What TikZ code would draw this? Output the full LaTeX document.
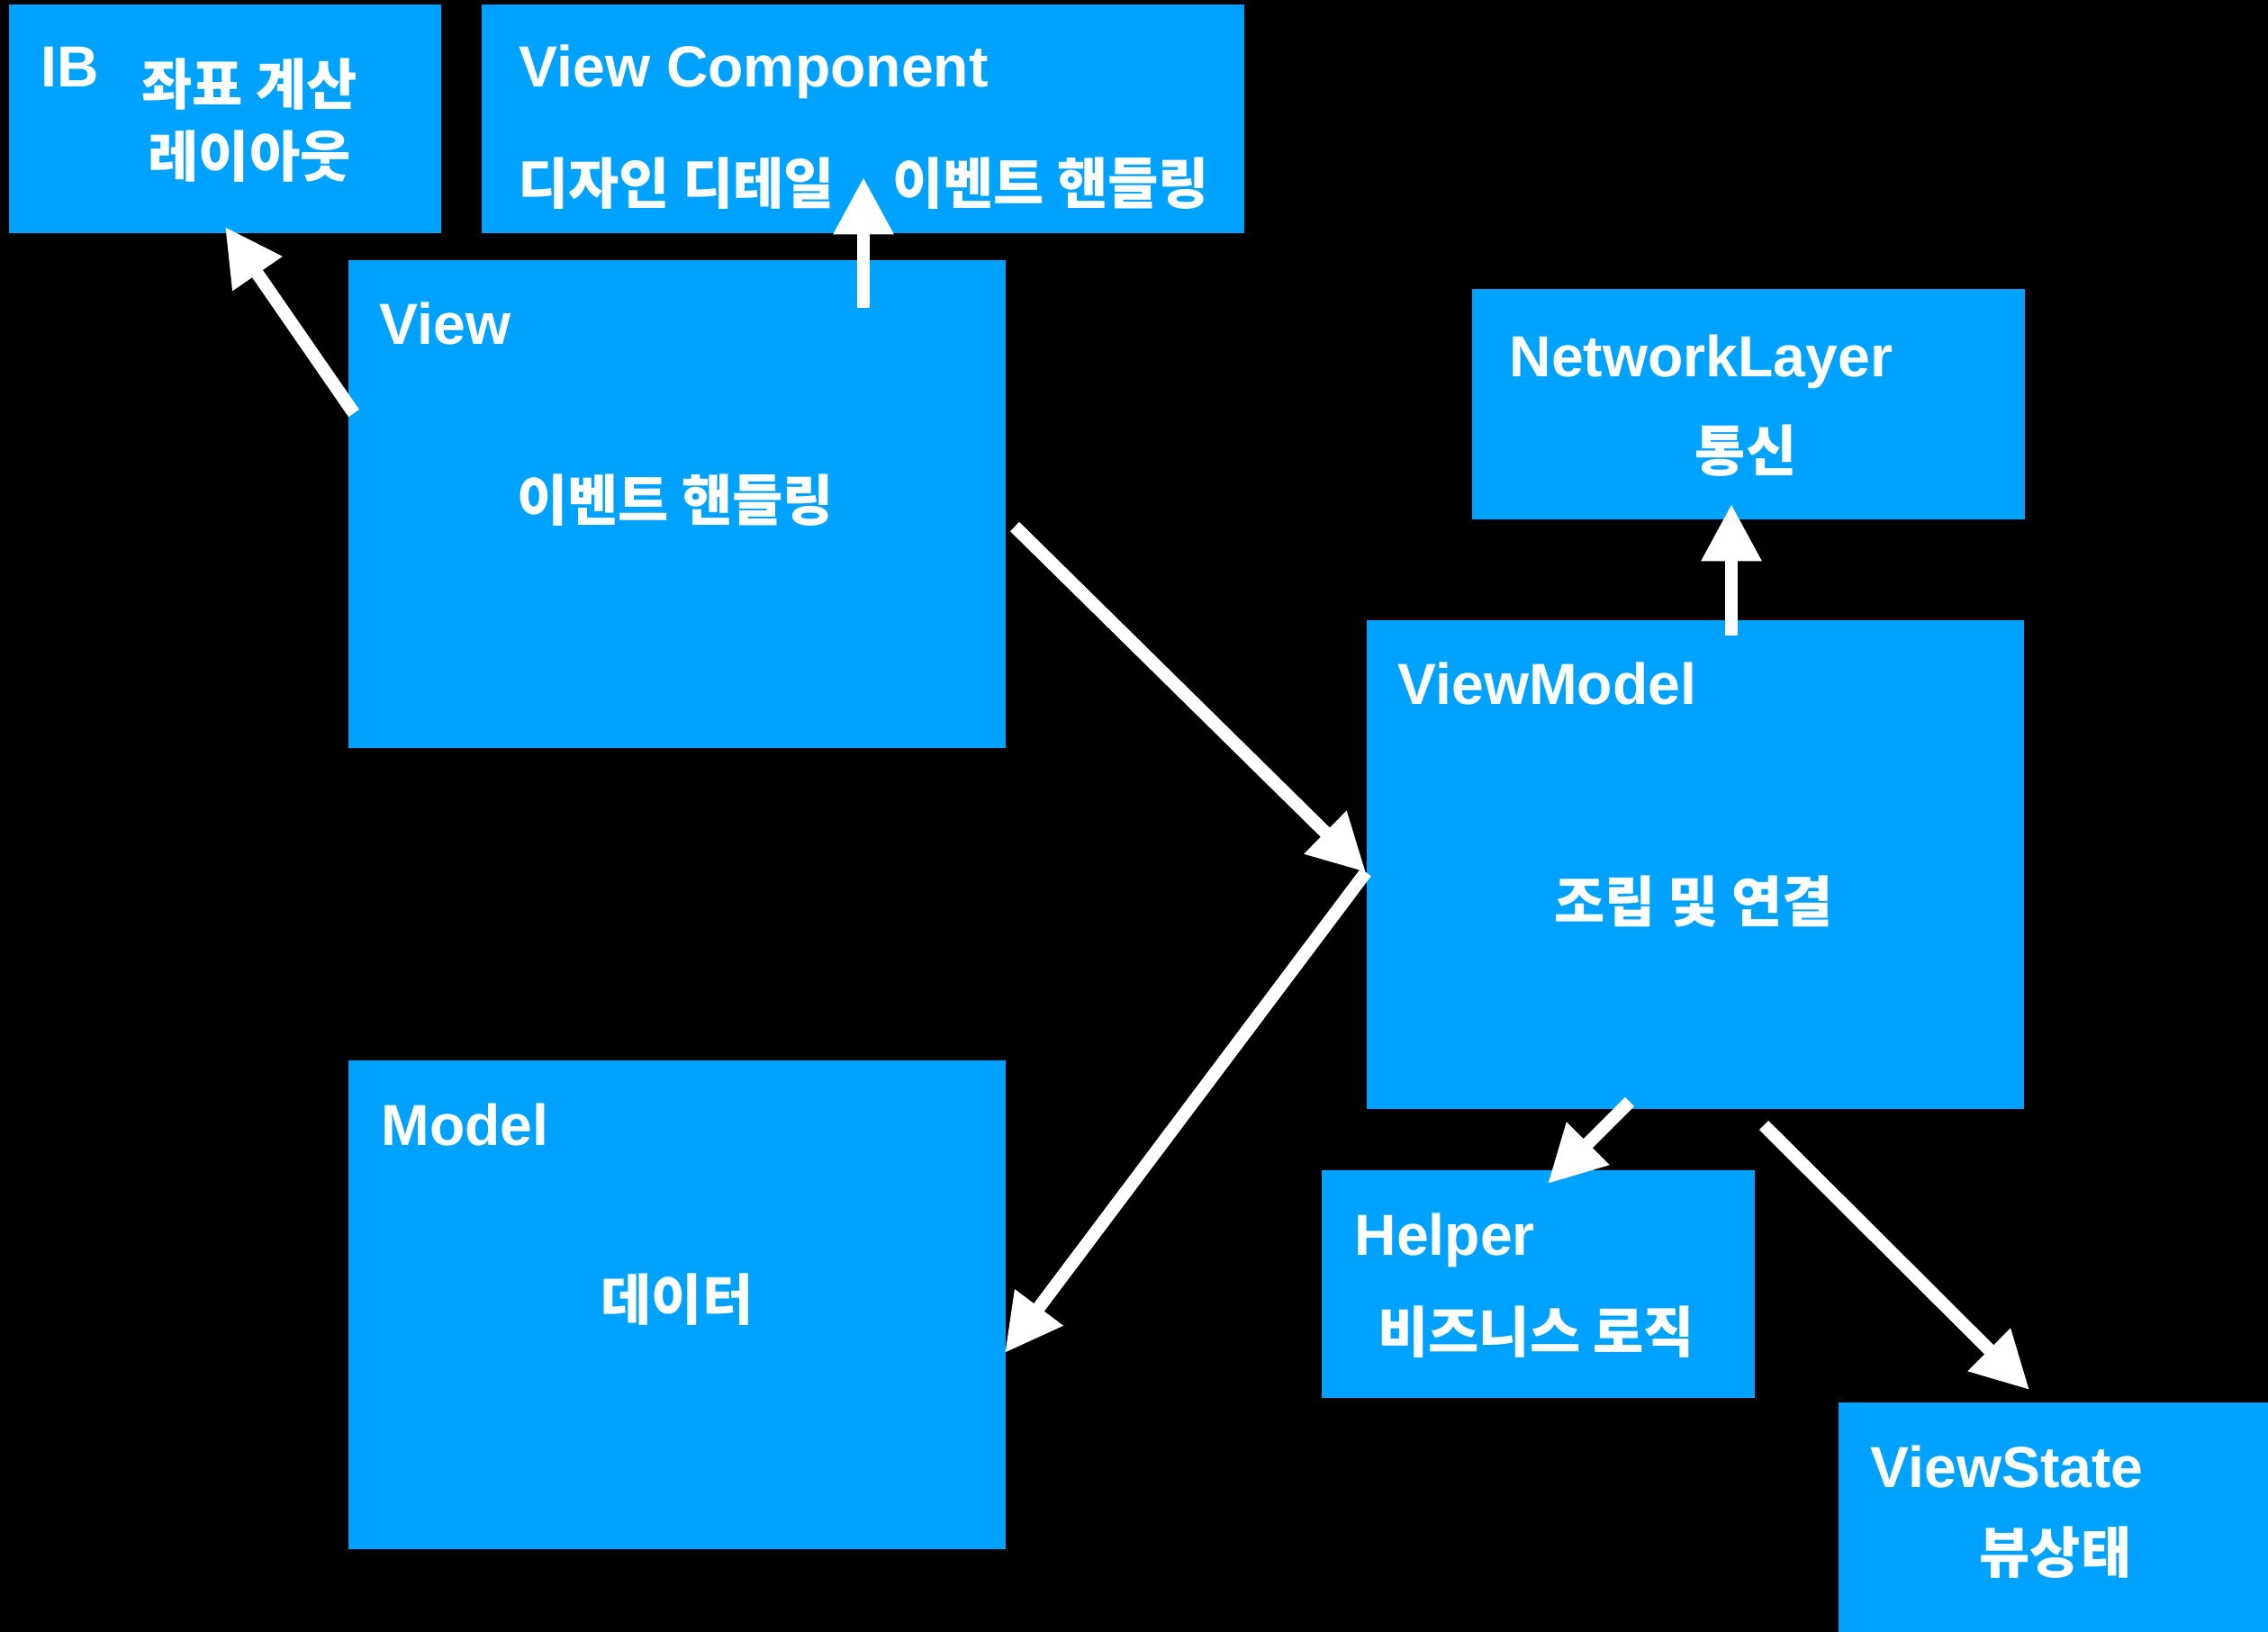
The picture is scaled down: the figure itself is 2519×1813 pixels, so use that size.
\documentclass[tikz,border=0pt]{standalone}
\usepackage{fontspec}
\setmainfont{Liberation Sans}
\newfontfamily\kr{Noto Sans CJK KR}
\usetikzlibrary{arrows.meta}
\definecolor{kblue}{RGB}{0,162,255}
\tikzset{
  box/.style={fill=kblue, draw=none, inner sep=0pt, outer sep=0pt},
  title/.style={anchor=base west, inner sep=0pt, text=white,
    font=\bfseries\fontsize{18.3}{21}\selectfont},
  note/.style={anchor=center, inner sep=0pt, text=white, align=center,
    font=\kr\bfseries\fontsize{17.4}{22.8}\selectfont},
  link/.style={draw=white, line width=4.1pt,
    -{Triangle[length=18pt, width=18pt]}},
}
\begin{document}
\begin{tikzpicture}[x=0.01cm, y=-0.01cm]
  % canvas
  \fill[black] (0,0) rectangle (2519,1813);
  \useasboundingbox (0,0) rectangle (2519,1813);

  % boxes
  \node[box, minimum width=4.80cm, minimum height=2.54cm] (ib)     at (250,132) {};
  \node[box, minimum width=8.47cm, minimum height=2.54cm] (vc)     at (958.5,132) {};
  \node[box, minimum width=7.30cm, minimum height=5.42cm] (view)   at (752,560) {};
  \node[box, minimum width=6.14cm, minimum height=2.56cm] (net)    at (1942,449) {};
  \node[box, minimum width=7.30cm, minimum height=5.43cm] (vm)     at (1883,960.5) {};
  \node[box, minimum width=7.30cm, minimum height=5.43cm] (model)  at (752,1449.5) {};
  \node[box, minimum width=4.81cm, minimum height=2.53cm] (helper) at (1708.5,1426.5) {};
  \node[box, minimum width=4.77cm, minimum height=2.55cm] (vs)     at (2280.5,1685.5) {};

  % titles
  \node[title] (ib-t)     at (45,97)    {IB};
  \node[title] (vc-t)     at (576,97)   {View Component};
  \node[title] (view-t)   at (421,383)  {View};
  \node[title] (net-t)    at (1676,419) {NetworkLayer};
  \node[title] (vm-t)     at (1552,783) {ViewModel};
  \node[title] (model-t)  at (423,1272) {Model};
  \node[title] (helper-t) at (1504,1394){Helper};
  \node[title] (vs-t)     at (2077,1652){ViewState};

  % descriptions
  \node[note] (ib-n)     at (277,133.5) {좌표 계산\\레이아웃};
  \node[note] (vc-n1)    at (751,204)   {디자인 디테일};
  \node[note] (vc-n2)    at (1167,204)  {이벤트 핸들링};
  \node[note] (view-n)   at (750,556)   {이벤트 핸들링};
  \node[note] (net-n)    at (1939,501)  {통신};
  \node[note] (vm-n)     at (1881,1002) {조립 및 연결};
  \node[note] (model-n)  at (752,1444)  {데이터};
  \node[note] (helper-n) at (1706,1480) {비즈니스 로직};
  \node[note] (vs-n)     at (2283,1725) {뷰상태};

  % connector ends
  \coordinate (view-ib)   at (393,459);
  \coordinate (ib-in)     at (250,252);
  \coordinate (view-vc)   at (959,342);
  \coordinate (vc-in)     at (959,197);
  \coordinate (view-vm)   at (1127,585);
  \coordinate (vm-hub)    at (1517,969);
  \coordinate (model-in)  at (1116,1503);
  \coordinate (vm-net)    at (1923,706);
  \coordinate (net-in)    at (1923,560);
  \coordinate (vm-helper) at (1810,1224);
  \coordinate (helper-in) at (1719,1315);
  \coordinate (vm-vs)     at (1959,1250);
  \coordinate (vs-in)     at (2254,1544);

  % connectors
  \draw[link] (view-ib)   -- (ib-in);
  \draw[link] (view-vc)   -- (vc-in);
  \draw[link] (view-vm)   -- (vm-hub);
  \draw[link] (vm-hub)    -- (model-in);
  \draw[link] (vm-net)    -- (net-in);
  \draw[link] (vm-helper) -- (helper-in);
  \draw[link] (vm-vs)     -- (vs-in);
\end{tikzpicture}
\end{document}
